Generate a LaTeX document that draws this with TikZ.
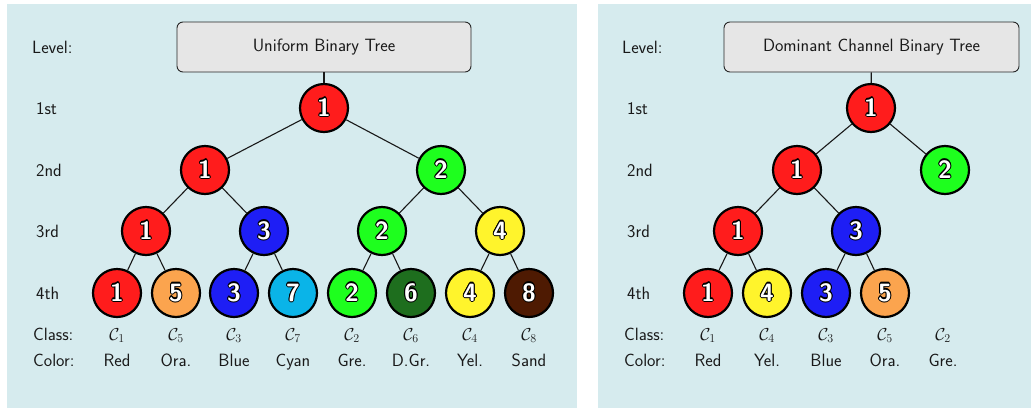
\documentclass[tikz,border=0pt]{standalone}
\usepackage{fontspec}
\definecolor{panelblue}{HTML}{D6EBEE}
\definecolor{titlegray}{HTML}{E6E6E6}
\definecolor{cRed}{HTML}{FF1C1C}
\definecolor{cOra}{HTML}{FBA44E}
\definecolor{cBlue}{HTML}{1E1EF5}
\definecolor{cCyan}{HTML}{0AB4E8}
\definecolor{cGre}{HTML}{1EFF1E}
\definecolor{cDGr}{HTML}{1E6E1E}
\definecolor{cYel}{HTML}{FFF42C}
\definecolor{cSand}{HTML}{4E1A02}
% white digit with a thin black contour, built from shifted copies
\newcommand\olcopy[3]{\rlap{\kern#1\raisebox{#2}{\textcolor{black}{#3}}}}
\newcommand\olnum[1]{%
  \olcopy{1.1pt}{0pt}{#1}\olcopy{-1.1pt}{0pt}{#1}%
  \olcopy{0pt}{1.1pt}{#1}\olcopy{0pt}{-1.1pt}{#1}%
  \olcopy{.78pt}{.78pt}{#1}\olcopy{-.78pt}{.78pt}{#1}%
  \olcopy{.78pt}{-.78pt}{#1}\olcopy{-.78pt}{-.78pt}{#1}%
  \textcolor{white}{#1}}
% a filled ring with an outlined number inside
\newcommand\ball[4]{%
  \node[ball, fill=#3] (#1) at (#2) {};
  \node[digit] (#1n) at (#1.center) {\olnum{#4}};
}
\begin{document}
\begin{tikzpicture}[x=1pt,y=-1pt,
  lbl/.style={font=\sffamily\fontsize{17.8}{19}\selectfont, text=black!90,
    inner sep=0pt, text height=12.2pt, text depth=0pt},
  cls/.style={font=\fontsize{17.3}{19}\selectfont, text=black!90,
    inner sep=0pt, text height=12.2pt, text depth=0pt},
  ball/.style={circle, draw=black, line width=2.2pt, minimum size=48pt, inner sep=0pt},
  digit/.style={font=\sffamily\bfseries\fontsize{25}{25}\selectfont,
    inner sep=0pt, text height=16pt, text depth=0pt},
  titlebox/.style={draw=black!85, line width=0.9pt, fill=titlegray, rounded corners=6pt,
    minimum height=50pt, inner sep=0pt,
    font=\sffamily\fontsize{17.8}{19}\selectfont, text=black!90},
  edge/.style={line width=1.1pt, black!90}
]
\useasboundingbox (0,0) rectangle (1031,408);
\fill[panelblue] (7,4) rectangle (577,408);
\fill[panelblue] (598,4) rectangle (1031,408);

% ---------- uniform tree ----------
\node[titlebox, minimum width=294pt] (ta) at (324,47) {Uniform Binary Tree};
\node[lbl, anchor=west] (la0) at (32,47.5) {Level:};
\node[lbl, anchor=west] (la1) at (36,108) {1st};
\node[lbl, anchor=west] (la2) at (36,170) {2nd};
\node[lbl, anchor=west] (la3) at (36,231) {3rd};
\node[lbl, anchor=west] (la4) at (36,293) {4th};
\node[lbl, anchor=west] (lac) at (33,334) {Class:};
\node[lbl, anchor=west] (lak) at (33,360) {Color:};

\ball{a1}{324,108}{cRed}{1}
\ball{a21}{205,170}{cRed}{1}
\ball{a22}{441,170}{cGre}{2}
\ball{a31}{146,231}{cRed}{1}
\ball{a32}{264,231}{cBlue}{3}
\ball{a33}{382,231}{cGre}{2}
\ball{a34}{500,231}{cYel}{4}
\ball{a41}{117,293}{cRed}{1}
\ball{a42}{176,293}{cOra}{5}
\ball{a43}{234,293}{cBlue}{3}
\ball{a44}{293,293}{cCyan}{7}
\ball{a45}{352,293}{cGre}{2}
\ball{a46}{411,293}{cDGr}{6}
\ball{a47}{470,293}{cYel}{4}
\ball{a48}{529,293}{cSand}{8}

\draw[edge] (ta) -- (a1);
\draw[edge] (a1) -- (a21);  \draw[edge] (a1) -- (a22);
\draw[edge] (a21) -- (a31); \draw[edge] (a21) -- (a32);
\draw[edge] (a22) -- (a33); \draw[edge] (a22) -- (a34);
\draw[edge] (a31) -- (a41); \draw[edge] (a31) -- (a42);
\draw[edge] (a32) -- (a43); \draw[edge] (a32) -- (a44);
\draw[edge] (a33) -- (a45); \draw[edge] (a33) -- (a46);
\draw[edge] (a34) -- (a47); \draw[edge] (a34) -- (a48);

\foreach \x/\c/\n [count=\i] in {117/1/Red,176/5/Ora.,234/3/Blue,293/7/Cyan,
    352/2/Gre.,411/6/D.Gr.,470/4/Yel.,529/8/Sand} {
  \node[cls] (ac\i) at (\x,334) {$\mathcal{C}_{\c}$};
  \node[lbl] (an\i) at (\x,360) {\n};
}

% ---------- dominant channel tree ----------
\node[titlebox, minimum width=295pt] (tb) at (871.5,47) {Dominant Channel Binary Tree};
\node[lbl, anchor=west] (lb0) at (622,47.5) {Level:};
\node[lbl, anchor=west] (lb1) at (627,108) {1st};
\node[lbl, anchor=west] (lb2) at (627,170) {2nd};
\node[lbl, anchor=west] (lb3) at (627,231) {3rd};
\node[lbl, anchor=west] (lb4) at (627,293) {4th};
\node[lbl, anchor=west] (lbc) at (624,334) {Class:};
\node[lbl, anchor=west] (lbk) at (624,360) {Color:};

\ball{b1}{871,108}{cRed}{1}
\ball{b21}{797,170}{cRed}{1}
\ball{b22}{945,170}{cGre}{2}
\ball{b31}{738,231}{cRed}{1}
\ball{b32}{856,231}{cBlue}{3}
\ball{b41}{708,293}{cRed}{1}
\ball{b42}{767,293}{cYel}{4}
\ball{b43}{826,293}{cBlue}{3}
\ball{b44}{885,293}{cOra}{5}

\draw[edge] (tb) -- (b1);
\draw[edge] (b1) -- (b21);  \draw[edge] (b1) -- (b22);
\draw[edge] (b21) -- (b31); \draw[edge] (b21) -- (b32);
\draw[edge] (b31) -- (b41); \draw[edge] (b31) -- (b42);
\draw[edge] (b32) -- (b43); \draw[edge] (b32) -- (b44);

\foreach \x/\c/\n [count=\i] in {708/1/Red,767/4/Yel.,826/3/Blue,885/5/Ora.,943/2/Gre.} {
  \node[cls] (bc\i) at (\x,334) {$\mathcal{C}_{\c}$};
  \node[lbl] (bn\i) at (\x,360) {\n};
}
\end{tikzpicture}
\end{document}
